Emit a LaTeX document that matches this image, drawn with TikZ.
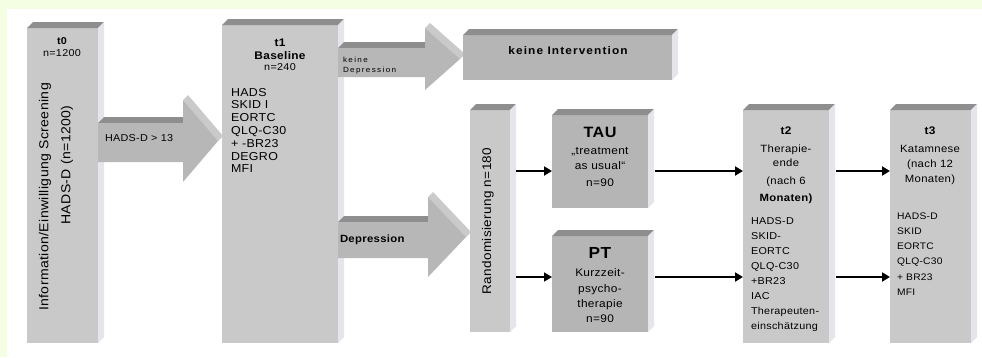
\documentclass[tikz,border=0pt]{standalone}
\usepackage{fontspec}
\setmainfont{Liberation Sans}[FakeStretch=1.08,LetterSpace=3]
\usetikzlibrary{arrows.meta,calc}
\definecolor{bgy}{HTML}{F3FEE3}
\definecolor{frontA}{HTML}{C9C9C9}
\definecolor{frontB}{HTML}{B5B5B5}
\definecolor{topf}{HTML}{8E8E8E}
\definecolor{sidef}{HTML}{E8E4EB}
\definecolor{arrowf}{HTML}{B7B7B7}
\definecolor{bandf}{HTML}{CACACA}
\newcommand{\fsz}[1]{\fontsize{#1}{#1}\selectfont}
\newcommand{\tdbox}[6]{%
  \node[frontbox, fill=#6, anchor=north west, minimum width={#4pt-#2pt}, minimum height={#5pt-#3pt}] (#1) at (#2,#3) {};
  \fill[topf] (#1.north west) -- ++(6,-6) -- ([shift={(6,-6)}]#1.north east) -- (#1.north east) -- cycle;
  \fill[sidef] (#1.north east) -- ++(6,-6) -- ([shift={(6,-6)}]#1.south east) -- (#1.south east) -- cycle;
}
\newcommand{\bigarr}[7]{%
  \fill[topf] (#1,#2) -- ({#1+6},{#2-6}) -- ({#4+6},{#2-6}) -- (#4,#2) -- cycle;
  \fill[bandf] (#4,#5) -- ({#4+5},{#5-5}) -- ({#7+5},{(#5+#6)/2-5}) -- (#7,{(#5+#6)/2}) -- cycle;
  \fill[arrowf] (#1,#2) -- (#4,#2) -- (#4,#5) -- (#7,{(#5+#6)/2}) -- (#4,#6) -- (#4,#3) -- (#1,#3) -- cycle;
}
\tikzset{
  frontbox/.style={rectangle, inner sep=0pt, outer sep=0pt, draw=none},
  lbl/.style={inner sep=0pt, outer sep=0pt, text=black, anchor=base},
  lst/.style={inner sep=0pt, outer sep=0pt, text=black, anchor=base west},
  conn/.style={line width=2.8pt, -{Triangle[length=8pt,width=9pt]}},
  connthin/.style={line width=1.6pt, -{Triangle[length=8pt,width=9pt]}},
}
\begin{document}
\begin{tikzpicture}[x=1pt,y=-1pt]
\useasboundingbox (0,0) rectangle (982,357);
\fill[bgy] (0,0) rectangle (982,357);
\fill[white] (7,9) rectangle (982,357);

% t0
\tdbox{t0}{27}{28}{98}{343}{frontA}
% arrow HADS
\bigarr{98}{123}{162}{183}{100}{182}{218}
% t1
\tdbox{t1}{222}{25}{338}{343}{frontA}
% arrows from t1
\bigarr{338}{48}{77}{425}{28}{90}{460}
\bigarr{338}{222}{258}{428}{197}{277}{466}
% other boxes
\tdbox{keine}{463}{35}{672}{80}{frontB}
\tdbox{rand}{470}{110}{510}{332}{frontA}
\tdbox{tau}{552}{115}{648}{208}{frontB}
\tdbox{pt}{552}{236}{648}{332}{frontB}
\tdbox{t2}{743}{110}{829}{343}{frontA}
\tdbox{t3}{890}{110}{971}{343}{frontA}

% connectors
\coordinate (rowA) at (0,171);
\coordinate (rowB) at (0,277);
\draw[conn] ($(rand.east |- rowA)+(6,0)$) -- (tau.west |- rowA);
\draw[connthin] ($(rand.east |- rowB)+(6,0)$) -- (pt.west |- rowB);
\draw[conn] ($(tau.east |- rowA)+(7,0)$) -- (t2.west |- rowA);
\draw[conn] ($(pt.east |- rowB)+(7,0)$) -- (t2.west |- rowB);
\draw[conn] ($(t2.east |- rowA)+(7,0)$) -- (t3.west |- rowA);
\draw[conn] ($(t2.east |- rowB)+(7,0)$) -- (t3.west |- rowB);

% t0 texts
\node[lbl, font=\fsz{10}\bfseries] (t0a) at (62,44) {t0};
\node[lbl, font=\fsz{10}] (t0b) at (62,56) {n=1200};
\node[inner sep=0pt, rotate=90, font=\fsz{13}] (t0c) at (45,197) {Information/Einwilligung Screening};
\node[inner sep=0pt, rotate=90, font=\fsz{13}] (t0d) at (67,165) {HADS-D (n=1200)};

% arrow labels
\node[lst, font=\fsz{10}] (arrA) at (105,141) {HADS-D > 13};
\node[lst, font=\fsz{7.5}\addfontfeature{LetterSpace=18}] (arrB1) at (343,62) {keine};
\node[lst, font=\fsz{7.5}\addfontfeature{LetterSpace=18}] (arrB2) at (343,72) {Depression};
\node[lst, font=\fsz{10.5}\bfseries] (arrC) at (340,242) {Depression};

% t1 texts
\node[lbl, font=\fsz{11}\bfseries] (t1a) at (280,46) {t1};
\node[lbl, font=\fsz{11}\bfseries] (t1b) at (280,59) {Baseline};
\node[lbl, font=\fsz{10}] (t1c) at (280,70) {n=240};
\foreach \s [count=\i from 0] in {HADS,SKID I,EORTC,QLQ-C30,+ -BR23,DEGRO,MFI}
  \node[lst, font=\fsz{11.5}] (t1l\i) at (231,{96+12.8*\i}) {\s};

% keine Intervention
\node[lbl, font=\fsz{11}\bfseries\addfontfeature{LetterSpace=10}] (keinet) at (568,54) {keine Intervention};

% Randomisierung
\node[inner sep=0pt, rotate=90, font=\fsz{12.5}] (randt) at (488,221) {Randomisierung n=180};

% TAU
\node[lbl, font=\fsz{15}\bfseries] (taua) at (600,137) {TAU};
\node[lbl, font=\fsz{11}] (taub) at (600,154) {„treatment};
\node[lbl, font=\fsz{11}] (tauc) at (600,169) {as usual“};
\node[lbl, font=\fsz{11}] (taud) at (600,186) {n=90};

% PT
\node[lbl, font=\fsz{16}\bfseries] (pta) at (600,258) {PT};
\node[lbl, font=\fsz{11}] (ptb) at (600,276) {Kurzzeit-};
\node[lbl, font=\fsz{11}] (ptc) at (600,292) {psycho-};
\node[lbl, font=\fsz{11}] (ptd) at (600,307) {therapie};
\node[lbl, font=\fsz{11}] (pte) at (600,322) {n=90};

% t2
\node[lbl, font=\fsz{11}\bfseries] (t2a) at (786,134) {t2};
\node[lbl, font=\fsz{10.5}] (t2b) at (786,152) {Therapie-};
\node[lbl, font=\fsz{10.5}] (t2c) at (786,166) {ende};
\node[lbl, font=\fsz{10.5}] (t2d) at (786,184) {(nach 6};
\node[lbl, font=\fsz{10.5}\bfseries] (t2e) at (786,201) {Monaten)};
\foreach \s [count=\i from 0] in {HADS-D,SKID-,EORTC,QLQ-C30,+BR23,IAC,Therapeuten-,einschätzung}
  \node[lst, font=\fsz{10}] (t2l\i) at (751,{224+15.1*\i}) {\s};

% t3
\node[lbl, font=\fsz{11}\bfseries] (t3a) at (930,134) {t3};
\node[lbl, font=\fsz{10.5}] (t3b) at (930,152) {Katamnese};
\node[lbl, font=\fsz{10.5}] (t3c) at (930,167) {(nach 12};
\node[lbl, font=\fsz{10.5}] (t3d) at (930,182) {Monaten)};
\foreach \s [count=\i from 0] in {HADS-D,SKID,EORTC,QLQ-C30,+ BR23,MFI}
  \node[lst, font=\fsz{9.5}] (t3l\i) at (897,{219+15.3*\i}) {\s};
\end{tikzpicture}
\end{document}
